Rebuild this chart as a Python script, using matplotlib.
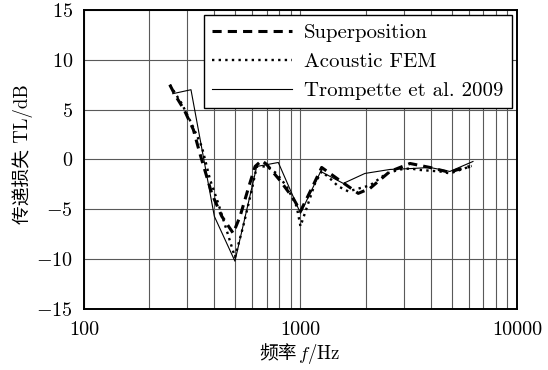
import matplotlib
matplotlib.use("Agg")
import matplotlib.pyplot as plt
from matplotlib.ticker import FixedLocator, LogLocator, FuncFormatter, NullFormatter
from matplotlib.offsetbox import TextArea, HPacker, AnchoredOffsetbox

plt.rcParams.update({
    "font.family": ["cmr10", "Noto Sans CJK SC"],
    "mathtext.fontset": "cm",
    "axes.formatter.use_mathtext": True,
    "font.size": 14.5,
})

# Superposition result
sup_f = [249, 263, 290, 320, 343, 389, 433, 489, 526, 574, 617, 662, 698, 804, 926,
         1000, 1127, 1253, 1496, 1849, 2094, 2590, 3206, 3963, 4906, 5263, 6067]
sup_tl = [7.5, 6.5, 5.0, 3.0, 0.6, -3.4, -5.7, -7.4, -5.7, -2.9, -0.7, -0.1, -0.5, -2.1, -3.9,
          -5.2, -2.9, -0.8, -2.0, -3.4, -2.9, -1.2, -0.4, -0.8, -1.3, -1.05, -0.7]

# Acoustic FEM result
fem_f = [249, 283, 314, 350, 382, 417, 456, 498, 544, 595, 628, 698, 776, 863, 960,
         1000, 1086, 1167, 1253, 1368, 1496, 1663, 2094, 2501, 2883, 3206, 3565, 4406,
         4906, 5454, 6180]
fem_tl = [7.5, 5.6, 3.6, 1.3, -2.0, -4.4, -7.1, -9.8, -6.7, -3.1, -0.7, -0.7, -1.4, -2.7, -4.7,
          -6.7, -4.4, -2.4, -1.2, -1.9, -2.7, -3.2, -2.6, -1.4, -1.0, -0.9, -1.05, -1.2,
          -1.4, -1.05, -0.65]

# Trompette et al. 2009
tro_f = [257, 312, 400, 498, 628, 790, 1000, 1240, 1577, 1985, 2590, 3310, 3963, 4900, 6265]
tro_tl = [6.6, 7.0, -5.7, -10.2, -0.7, -0.3, -5.4, -1.2, -2.4, -1.4, -1.0, -0.9, -0.8, -1.2, -0.2]

fig = plt.figure(figsize=(5.48, 3.70), dpi=100)
ax = fig.add_axes([0.1533, 0.1649, 0.79, 0.8081])

ax.plot(sup_f, sup_tl, color="black", lw=2.2, dashes=(3, 2), label="Superposition")
ax.plot(fem_f, fem_tl, color="black", lw=1.7, dashes=(1, 1.8), label="Acoustic FEM")
ax.plot(tro_f, tro_tl, color="black", lw=0.8, label="Trompette et al. 2009")

ax.set_xscale("log")
ax.set_xlim(100, 10000)
ax.set_ylim(-15, 15)
ax.xaxis.set_major_locator(FixedLocator([100, 1000, 10000]))
ax.xaxis.set_major_formatter(FuncFormatter(lambda x, pos: str(int(round(x)))))
ax.xaxis.set_minor_locator(LogLocator(base=10, subs=range(2, 10)))
ax.xaxis.set_minor_formatter(NullFormatter())
ax.set_yticks(range(-15, 16, 5))

ax.grid(True, which="both", color="0.35", lw=0.8)
ax.set_axisbelow(True)
ax.tick_params(axis="x", which="both", length=0, pad=9)
ax.tick_params(axis="y", which="both", length=0, pad=8)
for s in ax.spines.values():
    s.set_linewidth(1.4)

ax.set_ylabel("传递损失 TL/dB", fontsize=13.5)
ax.yaxis.set_label_coords(-0.118, 0.518)

# x label: CJK text followed by math-italic f
xlab = HPacker(children=[TextArea("频率", textprops=dict(family="Noto Sans CJK SC", size=13.5)),
                         TextArea("$f$/Hz", textprops=dict(size=13.5))],
               align="baseline", pad=0, sep=1)
fig.add_artist(AnchoredOffsetbox(loc="center", child=xlab, frameon=False, pad=0, borderpad=0,
                                 bbox_to_anchor=(0.547, 0.043), bbox_transform=fig.transFigure))

leg = ax.legend(loc="upper right", handlelength=3.8, handletextpad=0.6, fancybox=False,
                framealpha=1, edgecolor="black", borderaxespad=0.25, labelspacing=0.5,
                borderpad=0.4, fontsize=15)
leg.get_frame().set_linewidth(1.0)

fig.savefig("out.png", dpi=100)
